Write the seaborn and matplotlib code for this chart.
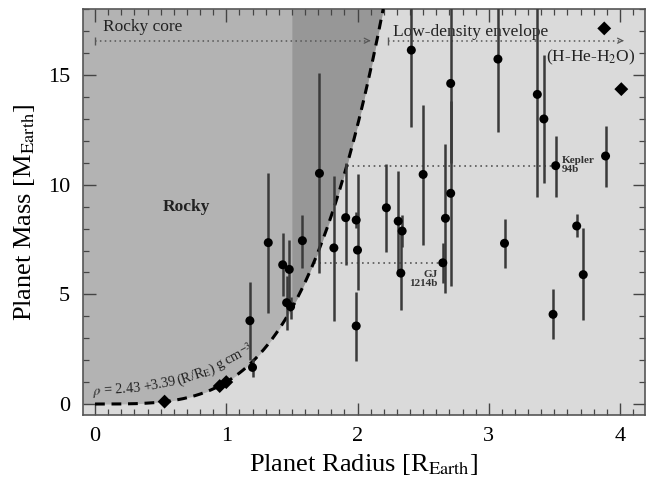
import numpy as np
import pandas as pd
import matplotlib
matplotlib.use("Agg")
import matplotlib.pyplot as plt
import seaborn as sns
from matplotlib.ticker import MultipleLocator

# ---- data ----
radius = [1.18, 1.20, 1.32, 1.43, 1.46, 1.48, 1.49, 1.58, 1.71, 1.82,
          1.91, 1.99, 2.00, 1.99, 2.22, 2.31, 2.34, 2.33, 2.41, 2.50,
          2.65, 2.67, 2.71, 2.71, 3.07, 3.12, 3.37, 3.42, 3.51, 3.49,
          3.67, 3.72, 3.89]
mass = [3.80, 1.67, 7.36, 6.35, 4.62, 6.14, 4.44, 7.45, 10.52, 7.12,
        8.50, 8.39, 7.02, 3.56, 8.95, 8.34, 7.89, 5.97, 16.14, 10.47,
        6.44, 8.47, 9.61, 14.62, 15.73, 7.33, 14.12, 13.00, 10.87, 4.09,
        8.12, 5.90, 11.31]
mass_lo = [2.00, 1.25, 4.13, 4.92, 3.37, 4.60, 3.90, 6.20, 5.96, 3.80,
           6.34, 8.01, 5.20, 1.97, 6.95, 6.03, 7.17, 4.29, 12.65, 7.25,
           5.53, 5.05, 5.38, 11.00, 12.40, 6.19, 9.45, 10.10, 9.45, 2.95,
           7.60, 3.83, 9.91]
mass_hi = [5.58, 2.05, 10.55, 7.78, 5.84, 7.48, 4.90, 8.62, 15.10, 10.42,
           10.98, 8.77, 10.49, 5.12, 10.93, 10.62, 8.62, 7.78, 19.0, 13.62,
           7.36, 11.86, 13.80, 19.0, 19.0, 8.42, 19.0, 15.90, 12.22, 5.24,
           8.65, 8.01, 12.68]

solar_radius = [0.53, 0.95, 1.00, 3.88, 4.01]
solar_mass = [0.11, 0.82, 1.00, 17.13, 14.36]

rho_a, rho_b = 2.43, 3.39      # rho = a + b (R/RE) g cm^-3
rho_norm = 5.8                 # normalisation to Earth masses
rocky_core_edge = 1.5
kepler94b = (3.51, 10.87)
gj1214b = (2.65, 6.44)

xticks = [0, 1, 2, 3, 4]
yticks = [0, 5, 10, 15]

formula_chunks = [r'$\rho$ = 2.43', r'+3.39', r'(R/R$_{\rm E}$)', r'g cm$^{-3}$']
formula_angles = [4, 11, 19, 28]

# ---- style ----
sns.set_theme(style="ticks")
plt.rcParams['font.family'] = ['Liberation Serif', 'DejaVu Serif']
plt.rcParams['mathtext.fontset'] = 'stix'

XMIN, XMAX, YMIN, YMAX = -0.094, 4.19, -0.5, 18.0
bg = '#dadada'
rocky_col = '#b3b3b3'
core_col = '#979797'

fig = plt.figure(figsize=(6.47, 4.83), dpi=100)
ax = fig.add_axes([0.1278, 0.1408, 0.869, 0.8399])
ax.set_facecolor(bg)
ax.set_xlim(XMIN, XMAX)
ax.set_ylim(YMIN, YMAX)

# model curve
r_curve = np.linspace(0, 2.4, 600)
m_curve = r_curve**3 * (rho_a + rho_b * r_curve) / rho_norm
r_top = np.interp(YMAX, m_curve, r_curve)

r_fill = np.linspace(XMIN, r_top, 500)
rp = np.clip(r_fill, 0, None)
m_fill = rp**3 * (rho_a + rho_b * rp) / rho_norm
ax.fill_between(r_fill, m_fill, YMAX, color=rocky_col, lw=0, zorder=0)
sel = r_fill >= rocky_core_edge
r_core = np.concatenate([[rocky_core_edge], r_fill[sel]])
m_core = r_core**3 * (rho_a + rho_b * r_core) / rho_norm
ax.fill_between(r_core, m_core, YMAX, color=core_col, lw=0, zorder=0)

mask = m_curve <= YMAX + 0.5
curve_df = pd.DataFrame({'r': r_curve[mask], 'm': m_curve[mask]})
sns.lineplot(data=curve_df, x='r', y='m', ax=ax, color='black', lw=2.2,
             linestyle=(0, (3.2, 2.2)), sort=False, zorder=3)

# reference lines for Kepler-94b and GJ 1214b
for (pr, pm) in (kepler94b, gj1214b):
    r0 = np.interp(pm, m_curve, r_curve)
    ax.plot([r0, pr], [pm, pm], color='#555555', lw=1.2, ls=(0, (1, 2.2)), zorder=2)

# error bars and points
ax.vlines(radius, mass_lo, mass_hi, color='#3a3a3a', lw=1.8, zorder=4)
pts = pd.DataFrame({'radius': radius, 'mass': mass})
sns.scatterplot(data=pts, x='radius', y='mass', ax=ax, color='black', s=42,
                marker='o', edgecolor='none', zorder=5)
sol = pd.DataFrame({'radius': solar_radius, 'mass': solar_mass})
sns.scatterplot(data=sol, x='radius', y='mass', ax=ax, color='black', s=50,
                marker='D', edgecolor='none', zorder=5)

# top arrows
arrow_y = 16.57
def dotted_arrow(x0, x1, y):
    ax.plot([x0, x1], [y, y], color='#555555', lw=1.1, ls=(0, (1, 2.2)), zorder=2)
    ax.plot([x0], [y], marker='|', color='#555555', ms=6, mew=1.0, zorder=2)
    ax.annotate('', xy=(x1 + 0.02, y), xytext=(x1 - 0.01, y),
                arrowprops=dict(arrowstyle='->', color='#555555', lw=0.9,
                                mutation_scale=9), zorder=2)
dotted_arrow(0.0, 2.08, arrow_y)
dotted_arrow(2.23, 4.01, arrow_y)

ax.text(0.06, 16.85, 'Rocky core', fontsize=12.5, ha='left', va='bottom', color='#222222')
ax.text(2.27, 16.95, 'Low-density envelope', fontsize=12.5, ha='left', va='center', color='#222222')
ax.text(4.12, 15.8, r'(H-He-H$_2$O)', fontsize=12.5, ha='right', va='center', color='#222222')
ax.text(0.70, 9.0, 'Rocky', fontsize=12.5, fontweight='bold', ha='center', va='center', color='#222222')
ax.text(3.56, 10.9, 'Kepler\n94b', fontsize=8, fontweight='bold', ha='left', va='center',
        linespacing=1.0, color='#333333')
ax.text(2.61, 5.7, 'GJ\n1214b', fontsize=8, fontweight='bold', ha='right', va='center',
        linespacing=1.0, color='#333333', multialignment='right')

# formula text bending along the curve, chunk by chunk
fig.canvas.draw()
renderer = fig.canvas.get_renderer()
start = ax.transData.transform((-0.015, 0.42))
for chunk, ang in zip(formula_chunks, formula_angles):
    pos = ax.transData.inverted().transform(start)
    t = ax.text(pos[0], pos[1], chunk, fontsize=10.2, rotation=0, rotation_mode='anchor',
                ha='left', va='baseline', color='#222222')
    w = t.get_window_extent(renderer).width
    t.set_rotation(ang)
    adv = w + 2.0
    th = np.deg2rad(ang)
    start = start + adv * np.array([np.cos(th), np.sin(th)])

# axes
ax.set_xticks(xticks)
ax.set_yticks(yticks)
ax.xaxis.set_minor_locator(MultipleLocator(0.1))
ax.yaxis.set_minor_locator(MultipleLocator(1))
ax.tick_params(which='both', direction='in', top=True, right=True, color='#444444')
ax.tick_params(which='major', length=9, width=1.0, labelsize=16, pad=9, labelcolor='black')
ax.tick_params(which='minor', length=4.5, width=0.9)
for s in ax.spines.values():
    s.set_color('#555555')
    s.set_linewidth(1.2)

ax.set_xlabel(r'Planet Radius [R$_{\rm Earth}$]', fontsize=19, labelpad=4, color='black')
ax.set_ylabel(r'Planet Mass [M$_{\rm Earth}$]', fontsize=19, labelpad=8, color='black')

fig.savefig('out.png', dpi=100)
